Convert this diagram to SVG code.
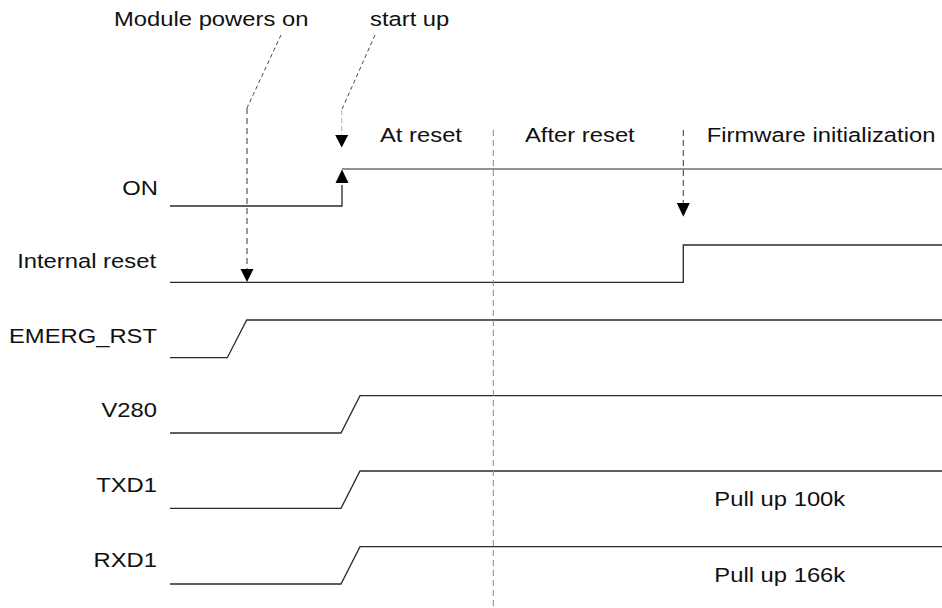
<svg xmlns="http://www.w3.org/2000/svg" width="942" height="608" viewBox="0 0 942 608">
  <style>
    /* labels use a slightly widened sans face */
    text { font-family: "Liberation Sans", Arial, sans-serif; font-size: 19.5px; fill: #111; }
    .r { text-anchor: end; }
    .sig { fill: none; stroke: #2a2a2a; stroke-width: 1.3; stroke-linejoin: miter; }
    .sig-hi { fill: none; stroke: #6e6e6e; stroke-width: 1.6; }
    .lead { fill: none; stroke: #333; stroke-width: 0.9; stroke-dasharray: 4 3; }
    .lead-v { fill: none; stroke: #333; stroke-width: 1; stroke-dasharray: 6 4; }
    .lead-light { fill: none; stroke: #bbb; stroke-width: 1.2; stroke-dasharray: 5 3; }
    .divider { fill: none; stroke: #888; stroke-width: 1; stroke-dasharray: 6 4; }
  </style>

  <!-- event captions -->
  <g id="caption-power">
    <text transform="translate(114,26) scale(1.22,1)">Module powers on</text>
  </g>
  <g id="caption-startup">
    <text transform="translate(370,26) scale(1.22,1)">start up</text>
  </g>

  <!-- phase labels -->
  <g id="phase-at-reset">
    <text transform="translate(380,141.7) scale(1.22,1)">At reset</text>
  </g>
  <g id="phase-after-reset">
    <text transform="translate(525,141.7) scale(1.22,1)">After reset</text>
  </g>
  <g id="phase-firmware">
    <text transform="translate(706.7,141.7) scale(1.22,1)">Firmware initialization</text>
  </g>

  <!-- signal ON -->
  <g id="sig-on">
    <text class="r" transform="translate(158,195) scale(1.22,1)">ON</text>
    <polyline class="sig" points="170,206 342,206 342,185"/>
    <line class="sig-hi" x1="342" y1="169" x2="942" y2="169"/>
  </g>

  <!-- signal Internal reset -->
  <g id="sig-internal-reset">
    <text class="r" transform="translate(156,267.5) scale(1.22,1)">Internal reset</text>
    <polyline class="sig" points="170,282.3 683.3,282.3 683.3,245 942,245"/>
  </g>

  <!-- signal EMERG_RST -->
  <g id="sig-emerg-rst">
    <text class="r" transform="translate(157,343.3) scale(1.22,1)">EMERG_RST</text>
    <polyline class="sig" points="170,357.7 227.3,357.7 246.7,320 942,320"/>
  </g>

  <!-- signal V280 -->
  <g id="sig-v280">
    <text class="r" transform="translate(157,416.7) scale(1.22,1)">V280</text>
    <polyline class="sig" points="170,433 341,433 360,395.7 942,395.7"/>
  </g>

  <!-- signal TXD1 -->
  <g id="sig-txd1">
    <text class="r" transform="translate(157,491.7) scale(1.22,1)">TXD1</text>
    <polyline class="sig" points="170,508.3 341,508.3 360,471 942,471"/>
    <text transform="translate(714.3,506) scale(1.22,1)">Pull up 100k</text>
  </g>

  <!-- signal RXD1 -->
  <g id="sig-rxd1">
    <text class="r" transform="translate(157,566.7) scale(1.22,1)">RXD1</text>
    <polyline class="sig" points="170,584 341,584 360,546.7 942,546.7"/>
    <text transform="translate(714.3,582) scale(1.22,1)">Pull up 166k</text>
  </g>

  <!-- connectors: leader lines, event arrows and phase divider -->
  <g id="connectors">
    <line class="divider" x1="493.3" y1="130" x2="493.3" y2="608"/>

    <!-- Module powers on -> Internal reset -->
    <polyline class="lead" points="281,35 247,108"/>
    <line class="lead-v" x1="247" y1="108" x2="247" y2="270"/>
    <path d="M240.5,269 L253.5,269 L247,282 z" fill="#000"/>

    <!-- start up -> ON -->
    <polyline class="lead" points="375,35 341.7,110"/>
    <line class="lead-light" x1="341.7" y1="110" x2="341.7" y2="136"/>
    <path d="M335.2,135 L348.2,135 L341.7,147.5 z" fill="#000"/>
    <path d="M335.5,183 L348.5,183 L342,169.5 z" fill="#000"/>

    <!-- firmware initialization -> Internal reset -->
    <line class="lead-v" x1="683.3" y1="130" x2="683.3" y2="204"/>
    <path d="M676.8,203 L689.8,203 L683.3,216.7 z" fill="#000"/>
  </g>
</svg>
